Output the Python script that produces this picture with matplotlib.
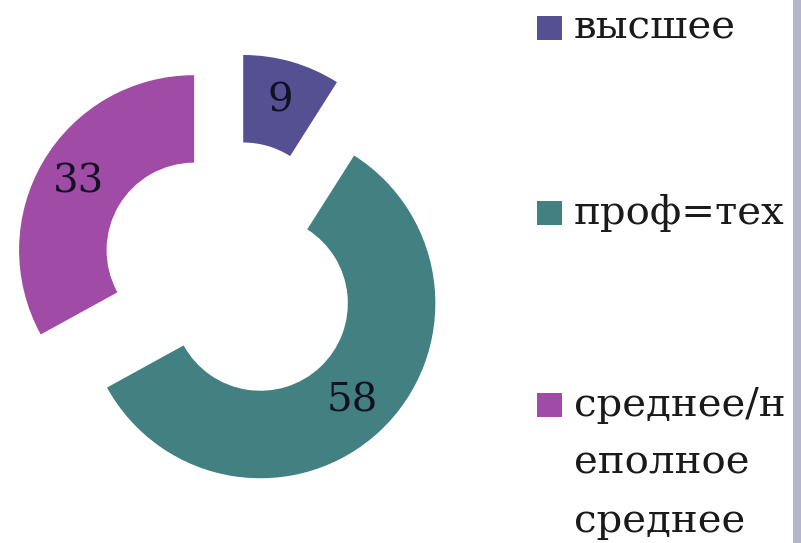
import matplotlib.pyplot as plt
from matplotlib.patches import Rectangle

categories = ["высшее", "проф=тех", "среднее/неполное среднее"]
legend_labels = ["высшее", "проф=тех", "среднее/н\nеполное\nсреднее"]
values = [9, 58, 33]
colors = ["#545091", "#428082", "#a04ba5"]

plt.rcParams['font.family'] = ['DejaVu Serif']

fig = plt.figure(figsize=(8.01, 5.43), dpi=100)
ax = fig.add_axes([0, 0, 520 / 801, 1])

wedges, texts = ax.pie(values, colors=colors, startangle=90, counterclock=False,
                       radius=1.0, explode=[0.25, 0.245, 0.245],
                       labels=[str(v) for v in values], labeldistance=0.77,
                       wedgeprops=dict(width=0.5, linewidth=0))
for t in texts:
    t.set_fontsize(29)
    t.set_color('#111122')
    t.set_ha('center')
    t.set_va('center')

ax.set_xlim(-231 / 175, (520 - 231) / 175)
ax.set_ylim(-(543 - 272) / 175, 272 / 175)
ax.set_aspect('auto')
ax.axis('off')

# legend drawn by hand, one entry per category
rows = [28, 213, 405]
for i, (lab, col) in enumerate(zip(legend_labels, colors)):
    y = rows[i]
    fig.patches.append(Rectangle((537 / 801, 1 - (y + 12) / 543), 25 / 801, 24 / 543,
                                 transform=fig.transFigure, color=col, linewidth=0))
    for j, line in enumerate(lab.split("\n")):
        fig.text(574 / 801, 1 - (y + j * 58) / 543, line, fontsize=29,
                 color='#1a1a1a', ha='left', va='center')

# side bar on the right edge
fig.patches.append(Rectangle((793 / 801, 0), 8 / 801, 1, transform=fig.transFigure,
                             color='#b4b4cd', linewidth=0))

fig.savefig("out.png", dpi=100)
